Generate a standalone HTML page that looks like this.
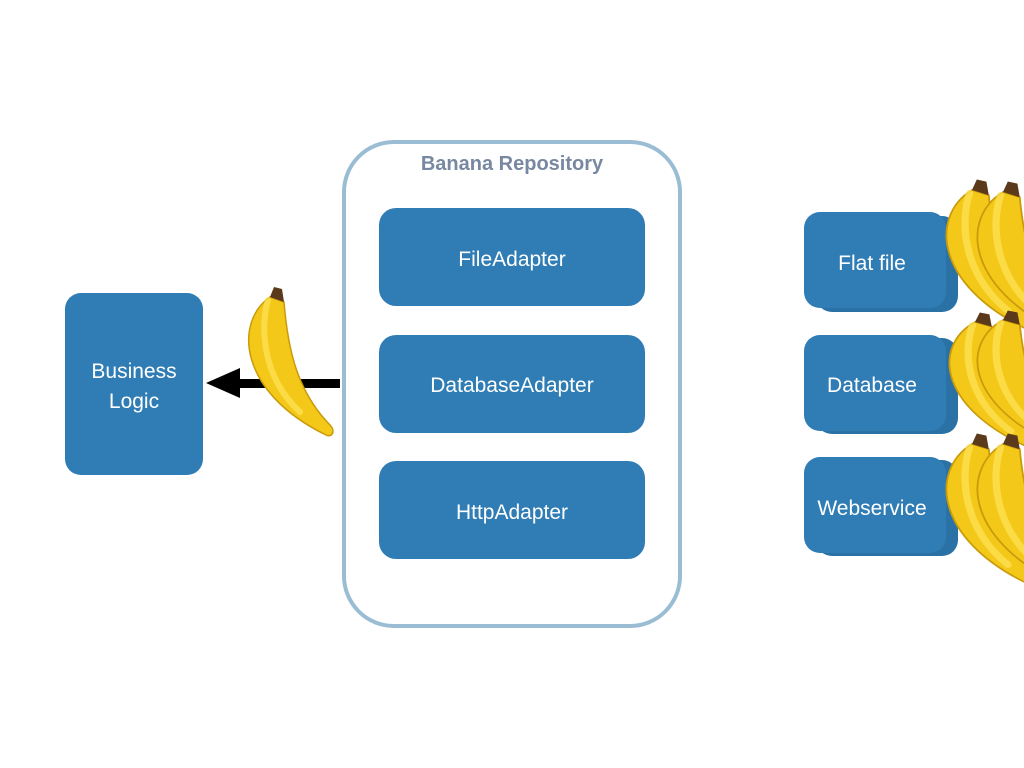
<!DOCTYPE html>
<html><head><style>
html,body{margin:0;padding:0;background:#fff;width:1024px;height:768px;overflow:hidden}
text{font-family:"Liberation Sans",sans-serif}
</style></head><body>
<svg width="1024" height="768" viewBox="0 0 1024 768">
<defs>
<g id="ban">
<path d="M0,0 C-36,25 -32,95 56,138 C62,141 66,134 60,128 C28,95 18,55 14,5 Z" fill="#f3c818" stroke="#c99a0a" stroke-width="1.5"/>
<path d="M-2,3 C-10,30 -8,80 30,115" fill="none" stroke="#ffe45a" stroke-width="6" stroke-linecap="round" opacity="0.7"/>
<path d="M0,0 L4,-10 L12,-8 L14,5 Z" fill="#5a3a1a"/>
</g>
</defs>
<rect x="65" y="293" width="138" height="182" rx="16" fill="#2f7db4"/>
<text x="134" y="378" fill="#fff" font-size="21" text-anchor="middle">Business</text>
<text x="134" y="408" fill="#fff" font-size="21" text-anchor="middle">Logic</text>
<rect x="344" y="142" width="336" height="484" rx="50" fill="none" stroke="#9bbdd4" stroke-width="4"/>
<text x="512" y="170" fill="#7888a0" font-size="20" font-weight="bold" text-anchor="middle">Banana Repository</text>
<rect x="379" y="208" width="266" height="98" rx="17" fill="#2f7db4"/>
<text x="512" y="266" fill="#fff" font-size="21" text-anchor="middle">FileAdapter</text>
<rect x="379" y="335" width="266" height="98" rx="17" fill="#2f7db4"/>
<text x="512" y="392" fill="#fff" font-size="21" text-anchor="middle">DatabaseAdapter</text>
<rect x="379" y="461" width="266" height="98" rx="17" fill="#2f7db4"/>
<text x="512" y="519" fill="#fff" font-size="21" text-anchor="middle">HttpAdapter</text>
<rect x="240" y="379" width="100" height="9" fill="#000"/>
<polygon points="206,383 240,368 240,398" fill="#000"/>
<use href="#ban" x="270" y="297"/>
<g fill="#2f7db4">
<rect x="816" y="216" width="142" height="96" rx="16" fill="#2a72a6"/>
<rect x="804" y="212" width="142" height="96" rx="16"/>
<rect x="816" y="338" width="142" height="96" rx="16" fill="#2a72a6"/>
<rect x="804" y="335" width="142" height="96" rx="16"/>
<rect x="816" y="460" width="142" height="96" rx="16" fill="#2a72a6"/>
<rect x="804" y="457" width="142" height="96" rx="16"/>
</g>
<text x="872" y="270" fill="#fff" font-size="21" text-anchor="middle">Flat file</text>
<text x="872" y="392" fill="#fff" font-size="21" text-anchor="middle">Database</text>
<text x="872" y="515" fill="#fff" font-size="21" text-anchor="middle">Webservice</text>
<use href="#ban" transform="translate(972,190) scale(1.2,1.05)"/>
<use href="#ban" transform="translate(1003,192) scale(1.2,1.05)"/>
<use href="#ban" transform="translate(975,322) scale(1.2,0.95)"/>
<use href="#ban" transform="translate(1003,320) scale(1.2,0.95)"/>
<use href="#ban" transform="translate(972,444) scale(1.2,1.05)"/>
<use href="#ban" transform="translate(1003,444) scale(1.2,1.05)"/>
</svg>
</body></html>
